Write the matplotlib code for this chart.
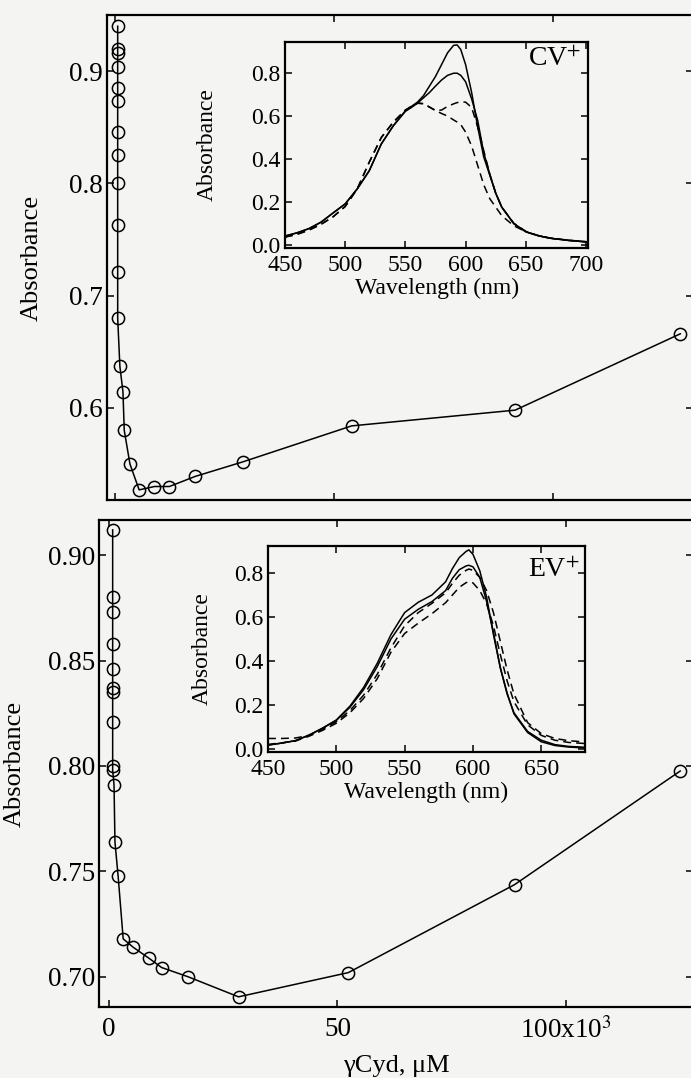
import matplotlib.pyplot as plt
import numpy as np

#------------- Valeurs exp : titrage (absorbance au max) ----------------------

# panneau du haut, CV+
conc_cv = [0.6, 0.6, 0.6, 0.6, 0.6, 0.6, 0.6, 0.6, 0.6, 0.6, 0.6, 0.6,
           1.1, 1.8, 2.1, 3.4, 5.5, 9.0, 12.4, 18.3, 29.2, 54.0, 91.3, 129.0]
abs_cv = [0.940, 0.920, 0.916, 0.904, 0.885, 0.873, 0.846, 0.825, 0.800, 0.763, 0.721, 0.680,
          0.637, 0.6145, 0.580, 0.550, 0.527, 0.530, 0.530, 0.539, 0.552, 0.584, 0.598, 0.666]

# panneau du bas, EV+
conc_ev = [0.9, 0.9, 0.9, 0.9, 0.9, 0.9, 0.9, 0.9, 0.9, 0.9,
           1.2, 1.4, 2.1, 3.2, 5.4, 8.9, 11.6, 17.4, 28.4, 52.4, 88.7, 124.9]
abs_ev = [0.912, 0.880, 0.873, 0.858, 0.846, 0.837, 0.835, 0.821, 0.800, 0.798,
          0.791, 0.764, 0.7476, 0.718, 0.714, 0.7087, 0.7044, 0.700, 0.6905, 0.702, 0.7437, 0.7976]

#------------- Spectres (encarts) ------------------------------------------------

wl_cv = [450, 460, 470, 480, 490, 500, 510, 520, 530, 540, 550, 555, 560, 565, 570, 575, 580,
         585, 590, 593, 596, 600, 605, 610, 615, 620, 625, 630, 640, 650, 660, 670, 685, 702]
cv_s1 = [0.040, 0.055, 0.075, 0.105, 0.148, 0.190, 0.260, 0.345, 0.470, 0.555, 0.625, 0.645,
         0.665, 0.695, 0.740, 0.785, 0.840, 0.895, 0.930, 0.932, 0.910, 0.840, 0.710, 0.550,
         0.410, 0.325, 0.240, 0.175, 0.098, 0.060, 0.042, 0.030, 0.020, 0.012]
cv_s2 = [0.040, 0.055, 0.075, 0.105, 0.148, 0.190, 0.260, 0.345, 0.470, 0.555, 0.622, 0.640,
         0.660, 0.685, 0.710, 0.740, 0.768, 0.790, 0.800, 0.800, 0.790, 0.760, 0.680, 0.580,
         0.430, 0.330, 0.240, 0.175, 0.098, 0.060, 0.042, 0.030, 0.020, 0.012]
cv_d1 = [0.035, 0.048, 0.068, 0.095, 0.130, 0.178, 0.260, 0.385, 0.500, 0.572, 0.628, 0.645,
         0.660, 0.658, 0.642, 0.626, 0.628, 0.645, 0.657, 0.663, 0.666, 0.665, 0.640, 0.550,
         0.440, 0.330, 0.240, 0.175, 0.100, 0.062, 0.043, 0.031, 0.021, 0.013]
cv_d2 = [0.035, 0.048, 0.068, 0.095, 0.130, 0.178, 0.260, 0.385, 0.500, 0.572, 0.628, 0.645,
         0.660, 0.658, 0.642, 0.626, 0.612, 0.600, 0.582, 0.572, 0.560, 0.525, 0.460, 0.370,
         0.280, 0.215, 0.175, 0.135, 0.088, 0.060, 0.042, 0.030, 0.020, 0.012]

wl_ev = [450, 460, 470, 480, 490, 500, 510, 520, 530, 540, 550, 560, 570, 580, 585,
         590, 595, 597, 600, 605, 610, 615, 620, 625, 630, 640, 650, 660, 670, 682]
ev_s1 = [0.018, 0.027, 0.038, 0.063, 0.095, 0.132, 0.195, 0.280, 0.390, 0.520, 0.620, 0.667,
         0.700, 0.760, 0.820, 0.870, 0.898, 0.905, 0.885, 0.810, 0.690, 0.520, 0.370, 0.255,
         0.160, 0.075, 0.033, 0.016, 0.009, 0.005]
ev_s2 = [0.018, 0.027, 0.038, 0.063, 0.095, 0.130, 0.190, 0.270, 0.375, 0.500, 0.590, 0.635,
         0.670, 0.720, 0.776, 0.815, 0.832, 0.835, 0.828, 0.780, 0.670, 0.530, 0.370, 0.250,
         0.165, 0.080, 0.040, 0.020, 0.012, 0.008]
ev_d1 = [0.048, 0.048, 0.050, 0.062, 0.090, 0.124, 0.175, 0.245, 0.340, 0.460, 0.560, 0.620,
         0.662, 0.710, 0.753, 0.790, 0.812, 0.818, 0.812, 0.780, 0.720, 0.620, 0.490, 0.360,
         0.250, 0.120, 0.070, 0.048, 0.038, 0.032]
ev_d2 = [0.021, 0.028, 0.036, 0.058, 0.085, 0.117, 0.165, 0.230, 0.320, 0.440, 0.525, 0.572,
         0.615, 0.665, 0.700, 0.735, 0.756, 0.760, 0.755, 0.720, 0.660, 0.560, 0.430, 0.310,
         0.215, 0.110, 0.062, 0.040, 0.030, 0.025]

#---------------------- Style du graphique -----------------------------------

plt.rcParams['font.family'] = ['Liberation Serif', 'DejaVu Serif']
plt.rcParams['mathtext.fontset'] = 'stix'
fond = '#f4f4f2'

fig = plt.figure(figsize=(6.91, 10.78), dpi=100, facecolor=fond)

def cadre(ax, taille, pad_x, pad_y):
    ax.set_facecolor(fond)
    ax.tick_params(direction='in', top=True, right=True, length=5, width=1.1,
                   labelsize=taille, colors='black')
    ax.tick_params(axis='x', pad=pad_x)
    ax.tick_params(axis='y', pad=pad_y)
    for s in ax.spines.values():
        s.set_linewidth(1.6)

tirets = (0, (5.2, 3.3))

#-------------------------- Panneau du haut (CV+) -------------------------------

ax1 = fig.add_axes([0.1549, 0.5362, 0.848, 0.4499])
ax1.plot(conc_cv, abs_cv, '-o', color='black', lw=1.1, ms=8.8,
         mfc='none', mec='black', mew=1.1)
ax1.set_xlim(-1.83, 131.9)
ax1.set_ylim(0.518, 0.950)
ax1.set_xticks([0, 50, 100])
ax1.set_xticklabels([])
ax1.set_yticks([0.6, 0.7, 0.8, 0.9])
ax1.set_ylabel('Absorbance', fontsize=19)
ax1.yaxis.set_label_coords(-0.109, 0.5)
cadre(ax1, 19.5, 7, 3)

#-------------------------- Panneau du bas (EV+) --------------------------------

ax2 = fig.add_axes([0.1433, 0.0659, 0.8596, 0.4518])
ax2.plot(conc_ev, abs_ev, '-o', color='black', lw=1.1, ms=8.8,
         mfc='none', mec='black', mew=1.1)
ax2.set_xlim(-2.08, 127.7)
ax2.set_ylim(0.6857, 0.9167)
ax2.set_xticks([0, 50, 100])
ax2.set_xticklabels(['0', '50', '100x10$^{3}$'])
ax2.set_yticks([0.70, 0.75, 0.80, 0.85, 0.90])
ax2.set_yticklabels(['0.70', '0.75', '0.80', '0.85', '0.90'])
ax2.set_ylabel('Absorbance', fontsize=19)
ax2.yaxis.set_label_coords(-0.123, 0.5)
ax2.set_xlabel('γCyd, μM', fontsize=19, labelpad=8)
cadre(ax2, 19.5, 7, 3)

#-------------------------- Encarts : spectres ---------------------------------

ins1 = fig.add_axes([0.4124, 0.7695, 0.4392, 0.1920])
ins1.plot(wl_cv, cv_s1, color='black', lw=1.1)
ins1.plot(wl_cv, cv_s2, color='black', lw=1.1)
ins1.plot(wl_cv, cv_d1, color='black', lw=1.1, linestyle=tirets)
ins1.plot(wl_cv, cv_d2, color='black', lw=1.1, linestyle=tirets)
ins1.set_xlim(450, 702)
ins1.set_ylim(-0.018, 0.948)
ins1.set_xticks([450, 500, 550, 600, 650, 700])
ins1.set_yticks([0.0, 0.2, 0.4, 0.6, 0.8])
ins1.set_xlabel('Wavelength (nm)', fontsize=17, labelpad=1)
ins1.set_ylabel('Absorbance', fontsize=17)
ins1.yaxis.set_label_coords(-0.22, 0.5)
ins1.text(0.975, 0.975, 'CV$^{+}$', transform=ins1.transAxes, ha='right', va='top', fontsize=20)
cadre(ins1, 17, 5, 3)

ins2 = fig.add_axes([0.3878, 0.3021, 0.4588, 0.1917])
ins2.plot(wl_ev, ev_s1, color='black', lw=1.1)
ins2.plot(wl_ev, ev_s2, color='black', lw=1.1)
ins2.plot(wl_ev, ev_d1, color='black', lw=1.1, linestyle=tirets)
ins2.plot(wl_ev, ev_d2, color='black', lw=1.1, linestyle=tirets)
ins2.set_xlim(450, 682)
ins2.set_ylim(-0.015, 0.924)
ins2.set_xticks([450, 500, 550, 600, 650])
ins2.set_yticks([0.0, 0.2, 0.4, 0.6, 0.8])
ins2.set_xlabel('Wavelength (nm)', fontsize=17, labelpad=1)
ins2.set_ylabel('Absorbance', fontsize=17)
ins2.yaxis.set_label_coords(-0.173, 0.5)
ins2.text(0.985, 0.94, 'EV$^{+}$', transform=ins2.transAxes, ha='right', va='top', fontsize=20)
cadre(ins2, 17, 5, 3)

#------------------ Sauvegarder --------------------------

plt.savefig('out.png', dpi=100, facecolor=fond)
